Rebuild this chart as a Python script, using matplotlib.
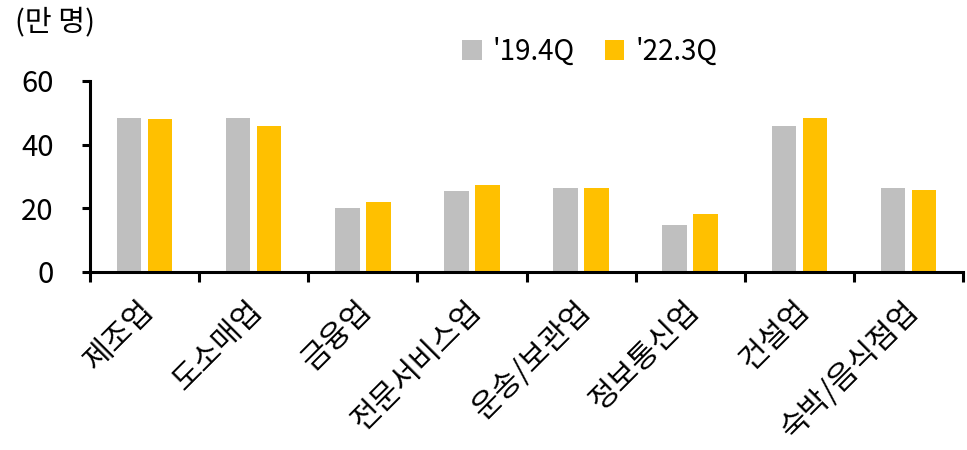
import matplotlib
matplotlib.use("Agg")
import matplotlib.pyplot as plt
import numpy as np

plt.rcParams['font.family'] = ['Noto Sans CJK KR', 'DejaVu Sans']

categories = ['제조업', '도소매업', '금융업', '전문서비스업', '운송/보관업', '정보통신업', '건설업', '숙박/음식점업']
series_names = ["'19.4Q", "'22.3Q"]
values_19 = [48.5, 48.5, 20.0, 25.3, 26.2, 14.8, 45.7, 26.3]
values_22 = [48.1, 45.9, 21.8, 27.3, 26.3, 18.3, 48.4, 25.8]
yticks = [0, 20, 40, 60]

gray = '#BFBFBF'
gold = '#FFC000'

fig = plt.figure(figsize=(9.67, 4.5), dpi=100)
ax = fig.add_axes([0.093, 0.396, 0.903, 0.424])

x = np.arange(len(categories))
w = 0.225
off = 0.142
ax.bar(x - off, values_19, w, color=gray, label=series_names[0])
ax.bar(x + off, values_22, w, color=gold, label=series_names[1])

ax.set_xlim(-0.5, len(categories) - 0.5)
ax.set_ylim(0, 60)
ax.set_yticks(yticks)
ax.set_yticklabels([str(v) for v in yticks], fontsize=21)

ax.set_xticks(x - 0.06)
ax.set_xticklabels(categories, rotation=45, ha='right', rotation_mode='anchor', fontsize=22)
ax.tick_params(axis='x', which='major', length=0, pad=17)
ax.set_xticks(np.arange(len(categories) + 1) - 0.5, minor=True)
ax.tick_params(axis='x', which='minor', length=7, width=2.2, direction='out')
ax.tick_params(axis='y', length=6, width=2.2, direction='out', pad=20)

for s in ['top', 'right']:
    ax.spines[s].set_visible(False)
for s in ['left', 'bottom']:
    ax.spines[s].set_linewidth(2.2)

leg = fig.legend(loc='center', bbox_to_anchor=(0.610, 0.885), ncol=2, frameon=False,
                 fontsize=20, handlelength=0.7, handleheight=0.7, handletextpad=0.4,
                 columnspacing=1.08)

fig.text(0.015, 0.95, '(만 명)', fontsize=21, va='center', ha='left')

fig.savefig('out.png', dpi=100)
